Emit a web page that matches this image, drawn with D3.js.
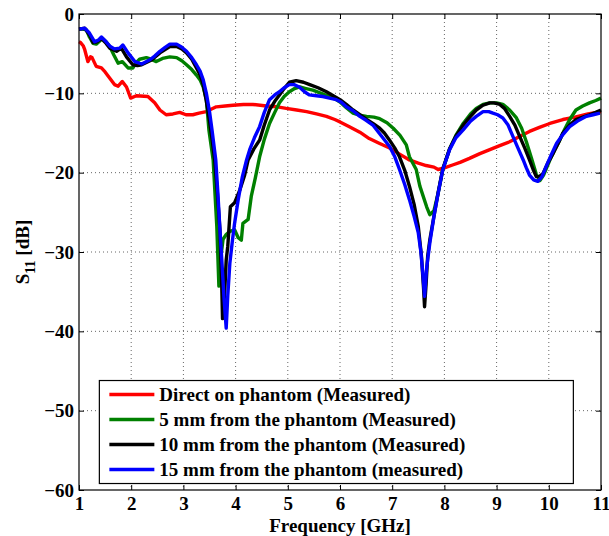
<!DOCTYPE html>
<html>
<head>
<meta charset="utf-8">
<script src="https://cdn.jsdelivr.net/npm/d3@7"></script>
<style>
  body { margin: 0; background: #fff; }
  svg { font-family: "Liberation Serif", "Times New Roman", serif; font-weight: bold; }
</style>
</head>
<body>
<script>
// S11 traces, [frequency GHz, S11 dB]
const direct = [[1.0,-3.5],[1.03,-3.6],[1.08,-4.0],[1.11,-4.5],[1.17,-6.0],[1.22,-5.4],[1.25,-5.5],[1.33,-6.6],[1.43,-6.8],[1.5,-7.3],[1.59,-8.1],[1.68,-8.9],[1.75,-9.1],[1.83,-8.5],[1.91,-9.2],[1.99,-10.6],[2.1,-10.3],[2.32,-10.4],[2.45,-11.2],[2.55,-12.1],[2.67,-12.7],[2.8,-12.6],[2.93,-12.4],[3.05,-12.7],[3.18,-12.7],[3.3,-12.5],[3.44,-12.3],[3.63,-11.7],[3.8,-11.6],[3.95,-11.5],[4.15,-11.4],[4.33,-11.4],[4.59,-11.6],[4.8,-11.7],[4.97,-11.9],[5.17,-12.1],[5.36,-12.3],[5.55,-12.6],[5.74,-12.9],[5.9,-13.3],[6.0,-13.6],[6.18,-14.2],[6.38,-14.9],[6.56,-15.7],[6.75,-16.3],[6.95,-16.9],[7.15,-17.7],[7.33,-18.4],[7.5,-18.8],[7.65,-19.1],[7.8,-19.3],[7.88,-19.6],[8.0,-19.4],[8.17,-19.0],[8.3,-18.7],[8.48,-18.2],[8.68,-17.6],[8.87,-17.1],[9.06,-16.6],[9.25,-16.1],[9.45,-15.4],[9.63,-14.8],[9.82,-14.3],[10.02,-13.8],[10.27,-13.3],[10.5,-13.0],[10.75,-12.6],[11.0,-12.3]];

const mm5 = [[1.0,-1.9],[1.07,-1.9],[1.14,-2.0],[1.2,-2.9],[1.27,-3.7],[1.33,-3.8],[1.45,-3.1],[1.52,-3.5],[1.59,-4.1],[1.67,-5.2],[1.75,-6.2],[1.83,-6.0],[1.94,-6.8],[2.03,-6.8],[2.1,-6.1],[2.16,-5.7],[2.29,-5.5],[2.38,-5.7],[2.48,-6.0],[2.6,-5.6],[2.74,-5.4],[2.87,-5.5],[2.97,-5.9],[3.06,-6.4],[3.16,-7.0],[3.25,-7.7],[3.32,-8.3],[3.38,-9.2],[3.44,-10.8],[3.49,-14.7],[3.57,-18.4],[3.64,-26.8],[3.68,-34.3],[3.72,-30.5],[3.76,-28.4],[3.82,-27.8],[3.89,-27.4],[3.98,-27.2],[4.05,-28.2],[4.11,-28.5],[4.14,-26.4],[4.24,-25.9],[4.30,-23.0],[4.38,-20.6],[4.46,-18.0],[4.55,-15.8],[4.65,-13.8],[4.75,-12.4],[4.84,-11.2],[4.93,-10.4],[5.03,-9.8],[5.13,-9.4],[5.23,-9.2],[5.35,-9.4],[5.48,-9.6],[5.64,-10.0],[5.80,-10.4],[5.9,-10.7],[6.0,-11.1],[6.12,-11.8],[6.25,-12.5],[6.4,-12.8],[6.51,-12.9],[6.65,-13.0],[6.76,-13.2],[6.9,-13.7],[7.02,-14.4],[7.15,-15.3],[7.27,-16.5],[7.33,-18.0],[7.46,-19.6],[7.53,-21.7],[7.66,-24.3],[7.72,-25.3],[7.80,-24.8],[7.88,-22.6],[7.97,-19.6],[8.1,-17.0],[8.22,-15.3],[8.36,-13.8],[8.5,-12.6],[8.61,-11.9],[8.74,-11.4],[8.87,-11.2],[9.0,-11.2],[9.12,-11.4],[9.25,-12.1],[9.38,-13.1],[9.48,-14.4],[9.57,-16.1],[9.67,-18.2],[9.76,-20.2],[9.83,-21.0],[9.9,-20.3],[10.02,-18.4],[10.12,-17.0],[10.21,-15.9],[10.3,-14.6],[10.4,-13.3],[10.52,-12.1],[10.65,-11.6],[10.78,-11.2],[10.9,-10.9],[11.0,-10.6]];

const mm10 = [[1.0,-1.9],[1.11,-1.8],[1.2,-2.6],[1.27,-3.6],[1.35,-3.5],[1.43,-3.1],[1.52,-3.7],[1.59,-4.3],[1.72,-4.7],[1.81,-4.3],[1.91,-5.4],[2.03,-6.4],[2.12,-6.5],[2.20,-6.4],[2.39,-5.8],[2.55,-4.9],[2.74,-4.1],[2.87,-4.1],[2.97,-4.4],[3.06,-4.9],[3.16,-5.7],[3.25,-6.8],[3.32,-7.7],[3.38,-8.9],[3.44,-11.0],[3.50,-13.5],[3.55,-15.8],[3.60,-18.4],[3.65,-22.5],[3.70,-27.2],[3.73,-33.0],[3.75,-38.4],[3.79,-35.2],[3.82,-31.0],[3.85,-29.3],[3.90,-24.3],[3.98,-23.8],[4.08,-22.2],[4.17,-20.4],[4.24,-18.4],[4.35,-17.0],[4.46,-15.9],[4.55,-14.0],[4.65,-12.1],[4.75,-11.0],[4.84,-10.2],[4.93,-9.4],[5.03,-8.6],[5.16,-8.4],[5.3,-8.6],[5.42,-8.9],[5.58,-9.3],[5.74,-9.8],[5.87,-10.3],[6.0,-10.8],[6.12,-11.4],[6.25,-12.1],[6.38,-12.7],[6.51,-13.3],[6.63,-13.8],[6.76,-14.4],[6.85,-15.0],[6.95,-15.9],[7.05,-16.9],[7.14,-18.0],[7.24,-19.7],[7.33,-21.7],[7.42,-24.0],[7.5,-26.8],[7.56,-30.5],[7.6,-34.5],[7.62,-36.9],[7.65,-34.0],[7.68,-30.5],[7.72,-28.5],[7.80,-25.5],[7.88,-22.5],[7.97,-19.5],[8.1,-17.0],[8.22,-15.4],[8.36,-14.0],[8.5,-12.9],[8.61,-12.1],[8.74,-11.5],[8.87,-11.2],[8.95,-11.2],[9.06,-11.4],[9.15,-11.9],[9.25,-12.9],[9.35,-14.0],[9.44,-15.4],[9.54,-16.9],[9.63,-18.4],[9.70,-19.6],[9.76,-20.5],[9.82,-20.5],[9.89,-20.1],[9.98,-18.8],[10.08,-17.6],[10.18,-16.3],[10.27,-15.0],[10.4,-14.0],[10.52,-13.3],[10.65,-13.0],[10.78,-12.7],[10.9,-12.4],[11.0,-12.1]];

const mm15 = [[1.0,-1.9],[1.11,-1.8],[1.2,-2.4],[1.30,-3.5],[1.37,-3.3],[1.43,-2.9],[1.52,-3.5],[1.60,-4.1],[1.68,-4.4],[1.78,-4.3],[1.84,-3.9],[1.94,-4.9],[2.07,-6.0],[2.20,-6.3],[2.35,-5.8],[2.45,-5.3],[2.55,-4.7],[2.65,-4.2],[2.74,-3.8],[2.87,-3.8],[2.97,-4.2],[3.06,-4.7],[3.16,-5.5],[3.25,-6.4],[3.32,-7.2],[3.38,-8.3],[3.44,-10.0],[3.50,-12.3],[3.55,-14.7],[3.62,-18.4],[3.66,-22.5],[3.70,-27.2],[3.74,-31.5],[3.78,-36.0],[3.82,-39.6],[3.85,-35.5],[3.89,-31.4],[3.94,-28.5],[3.98,-26.4],[4.05,-23.4],[4.13,-20.5],[4.21,-18.4],[4.27,-17.1],[4.36,-15.6],[4.46,-14.2],[4.55,-12.4],[4.65,-10.8],[4.75,-10.2],[4.84,-9.8],[4.93,-9.3],[5.03,-8.9],[5.12,-8.9],[5.22,-9.2],[5.32,-9.8],[5.41,-10.2],[5.55,-10.3],[5.67,-10.4],[5.80,-10.6],[5.93,-10.8],[6.02,-11.1],[6.12,-11.7],[6.25,-12.2],[6.38,-12.9],[6.50,-13.4],[6.63,-14.0],[6.70,-14.6],[6.82,-15.6],[6.95,-16.7],[7.05,-18.0],[7.14,-19.6],[7.24,-21.5],[7.33,-23.4],[7.42,-25.5],[7.50,-27.6],[7.55,-30.0],[7.59,-33.0],[7.62,-35.6],[7.66,-32.0],[7.72,-28.9],[7.80,-25.5],[7.88,-22.6],[7.97,-19.6],[8.10,-17.1],[8.22,-15.6],[8.36,-14.6],[8.5,-13.5],[8.61,-12.9],[8.74,-12.3],[8.85,-12.3],[8.93,-12.5],[9.02,-12.7],[9.12,-13.1],[9.22,-14.0],[9.31,-15.4],[9.41,-16.9],[9.51,-18.4],[9.57,-19.4],[9.63,-20.3],[9.71,-20.9],[9.79,-21.1],[9.87,-20.5],[9.95,-19.2],[10.05,-17.7],[10.15,-16.3],[10.27,-15.2],[10.40,-14.2],[10.55,-13.5],[10.72,-12.9],[10.85,-12.7],[10.98,-12.5]];

const seriesNames = ["Direct on phantom (Measured)", "5 mm from the phantom (Measured)", "10 mm from the phantom (Measured)", "15 mm from the phantom (measured)"];
const seriesColors = ["#ff0000", "#008000", "#000000", "#0000ff"];
const xTicks = [1, 2, 3, 4, 5, 6, 7, 8, 9, 10, 11];
const yTicks = [0, -10, -20, -30, -40, -50, -60];

const width = 609;
const height = 536;
const m = { left: 79, right: 8, top: 14, bottom: 46 };
const iw = width - m.left - m.right;
const ih = height - m.top - m.bottom;
const fs = "19px";

const svg = d3.select("body").append("svg").attr("width", width).attr("height", height);
const g = svg.append("g").attr("transform", "translate(" + m.left + "," + m.top + ")");

const x = d3.scaleLinear().domain([1, 11]).range([0, iw]);
const y = d3.scaleLinear().domain([-60, 0]).range([ih, 0]);

// dotted grid
g.append("g").selectAll("line").data(xTicks.slice(1, -1)).join("line")
  .attr("x1", d => x(d)).attr("x2", d => x(d)).attr("y1", 0).attr("y2", ih)
  .attr("stroke", "#666").attr("stroke-dasharray", "1,3");
g.append("g").selectAll("line").data(yTicks.slice(1, -1)).join("line")
  .attr("y1", d => y(d)).attr("y2", d => y(d)).attr("x1", 0).attr("x2", iw)
  .attr("stroke", "#666").attr("stroke-dasharray", "1,3");

const fmt = d => d < 0 ? "\u2212" + Math.abs(d) : String(d);

g.append("g").attr("transform", "translate(0," + ih + ")")
  .call(d3.axisBottom(x).tickValues(xTicks).tickSizeInner(-5).tickSizeOuter(0).tickPadding(7).tickFormat(d3.format("d")));
g.append("g")
  .call(d3.axisLeft(y).tickValues(yTicks).tickSizeInner(-5).tickSizeOuter(0).tickPadding(5).tickFormat(fmt));
g.append("g").call(d3.axisTop(x).tickValues(xTicks).tickSizeInner(-5).tickSizeOuter(0).tickFormat(""));
g.append("g").attr("transform", "translate(" + iw + ",0)")
  .call(d3.axisRight(y).tickValues(yTicks).tickSizeInner(-5).tickSizeOuter(0).tickFormat(""));

g.selectAll(".domain").remove();
g.selectAll(".tick line").attr("stroke", "#000");
g.selectAll(".tick text").attr("fill", "#000").style("font-size", fs)
  .style("font-family", "Liberation Serif, serif").style("font-weight", "bold");

// traces
const line = d3.line().x(d => x(d[0])).y(d => y(d[1]));
const data = [direct, mm5, mm10, mm15];
g.append("g").selectAll("path").data(data).join("path")
  .attr("d", line)
  .attr("fill", "none")
  .attr("stroke", (d, i) => seriesColors[i])
  .attr("stroke-width", 3.4)
  .attr("stroke-linejoin", "round");

// frame
g.append("rect").attr("width", iw).attr("height", ih)
  .attr("fill", "none").attr("stroke", "#000").attr("stroke-width", 1.2);

// legend
const lg = g.append("g").attr("transform", "translate(" + (x(1.39)) + "," + (y(-46.2)) + ")");
lg.append("rect").attr("width", 474).attr("height", 103)
  .attr("fill", "#fff").attr("stroke", "#000").attr("stroke-width", 1.2);
const items = lg.selectAll("g.item").data(seriesNames).join("g")
  .attr("class", "item")
  .attr("transform", (d, i) => "translate(0," + (14 + i * 25) + ")");
items.append("line").attr("x1", 10).attr("x2", 55).attr("y1", 0).attr("y2", 0)
  .attr("stroke", (d, i) => seriesColors[i]).attr("stroke-width", 3.4);
items.append("text").attr("x", 60).attr("y", 6.5).style("font-size", fs).text(d => d);

// axis titles
svg.append("text").attr("x", m.left + iw / 2).attr("y", 532).attr("text-anchor", "middle")
  .style("font-size", fs).text("Frequency [GHz]");
const yl = svg.append("text").attr("transform", "translate(29," + (m.top + ih / 2) + ") rotate(-90)")
  .attr("text-anchor", "middle").style("font-size", fs);
yl.append("tspan").text("S");
yl.append("tspan").attr("dy", 6).style("font-size", "14px").text("11");
yl.append("tspan").attr("dy", -6).text(" [dB]");
</script>
</body>
</html>
